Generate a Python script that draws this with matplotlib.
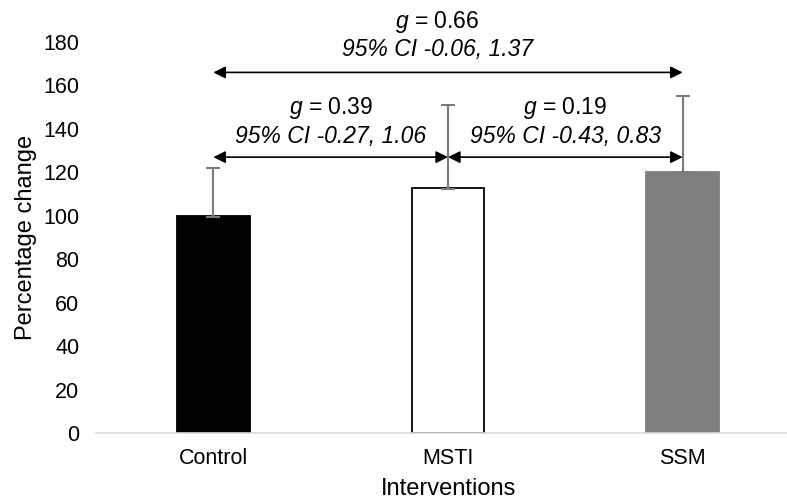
import matplotlib
matplotlib.use("Agg")
import matplotlib.pyplot as plt

# Group means and upper error (percentage change)
categories = ["Control", "MSTI", "SSM"]
means = [100, 113, 120]
err_upper = [22, 38, 35]
err_lower = [0.5, 0.5, 0.5]

# Pairwise effect sizes: (from index, to index, g, CI low, CI high)
comparisons = [
    (0, 1, 0.39, -0.27, 1.06),
    (1, 2, 0.19, -0.43, 0.83),
    (0, 2, 0.66, -0.06, 1.37),
]
arrow_levels = [127, 127, 166]
g_text_levels = [149.5, 149.5, 189]
ci_text_levels = [136.5, 136.5, 176.5]
text_shift = [0.0, 0.0, -0.045]

yticks = list(range(0, 181, 20))

plt.rcParams["font.family"] = ["Liberation Sans", "DejaVu Sans"]
plt.rcParams["mathtext.fontset"] = "custom"
plt.rcParams["mathtext.it"] = "Liberation Sans:italic"
plt.rcParams["mathtext.rm"] = "Liberation Sans"

fig = plt.figure(figsize=(7.87, 5.01), dpi=100)
ax = fig.add_axes([96 / 787, 1 - 433 / 501, 704 / 787, 391 / 501])

x = list(range(len(categories)))
face = ["#000000", "#ffffff", "#7f7f7f"]
edge = ["#000000", "#000000", "#7f7f7f"]
ax.bar(x, means, width=0.31, color=face, edgecolor=edge, linewidth=1.3, zorder=2)
ax.errorbar(x, means, yerr=[err_lower, err_upper], fmt="none", ecolor="#7a7a7a",
            elinewidth=1.5, capsize=5, capthick=1.5, zorder=3)

for (i, j, g, lo, hi), ya, yg, yc, dx in zip(comparisons, arrow_levels, g_text_levels,
                                             ci_text_levels, text_shift):
    ax.annotate("", xy=(x[j], ya), xytext=(x[i], ya),
                arrowprops=dict(arrowstyle="<|-|>", color="black", lw=1.2,
                                mutation_scale=18, shrinkA=0, shrinkB=0),
                annotation_clip=False, zorder=4)
    mid = (x[i] + x[j]) / 2 + dx
    ax.text(mid, yg, f"$\\mathit{{g}}$ = {g:.2f}", ha="center", va="center",
            fontsize=16.5, clip_on=False)
    ax.text(mid, yc, f"95% CI {lo:.2f}, {hi:.2f}", ha="center", va="center",
            fontsize=16.5, style="italic", clip_on=False)

ax.set_xlim(-0.5, 2.5)
ax.set_ylim(0, 180)
ax.set_yticks(yticks)
ax.set_xticks(x)
ax.set_xticklabels(categories)
ax.tick_params(axis="both", length=0, labelsize=15.5)
ax.tick_params(axis="y", pad=12)
ax.tick_params(axis="x", pad=11)
for side in ["top", "right", "left"]:
    ax.spines[side].set_visible(False)
ax.spines["bottom"].set_color("#d9d9d9")
ax.spines["bottom"].set_linewidth(1.2)

ax.set_ylabel("Percentage change", fontsize=17)
ax.set_xlabel("Interventions", fontsize=17)
ax.xaxis.set_label_coords((449 - 96) / 704, -45 / 391)
ax.yaxis.set_label_coords(-59 / 704, (433 - 237) / 391)

fig.savefig("out.png", dpi=100)
